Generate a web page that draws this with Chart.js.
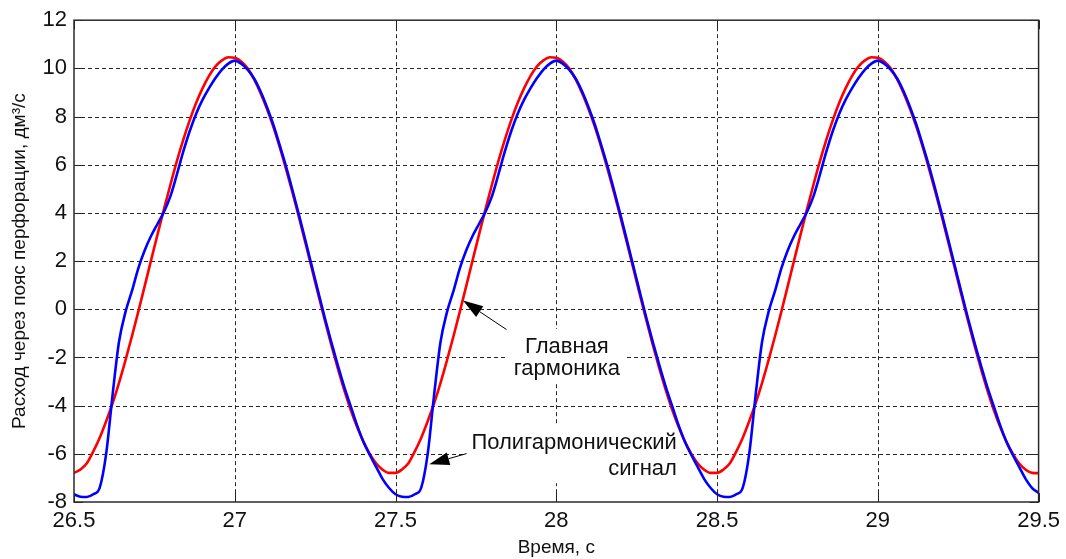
<!DOCTYPE html>
<html>
<head>
<meta charset="utf-8">
<script src="https://cdn.jsdelivr.net/npm/chart.js@4/dist/chart.umd.min.js"></script>
<style>
  html, body { margin: 0; padding: 0; background: #ffffff; }
  #wrap { width: 1066px; height: 559px; }
</style>
</head>
<body>
<div id="wrap"><canvas id="flow" width="1066" height="559"></canvas></div>
<script>
// Sample times, s
const timeS = [
  26.50,26.52,26.54,26.56,26.58,26.60,26.62,26.64,26.66,26.68,
  26.70,26.72,26.74,26.76,26.78,26.80,26.82,26.84,26.86,26.88,
  26.90,26.92,26.94,26.96,26.98,27.00,27.02,27.04,27.06,27.08,
  27.10,27.12,27.14,27.16,27.18,27.20,27.22,27.24,27.26,27.28,
  27.30,27.32,27.34,27.36,27.38,27.40,27.42,27.44,27.46,27.48,
  27.50,27.52,27.54,27.56,27.58,27.60,27.62,27.64,27.66,27.68,
  27.70,27.72,27.74,27.76,27.78,27.80,27.82,27.84,27.86,27.88,
  27.90,27.92,27.94,27.96,27.98,28.00,28.02,28.04,28.06,28.08,
  28.10,28.12,28.14,28.16,28.18,28.20,28.22,28.24,28.26,28.28,
  28.30,28.32,28.34,28.36,28.38,28.40,28.42,28.44,28.46,28.48,
  28.50,28.52,28.54,28.56,28.58,28.60,28.62,28.64,28.66,28.68,
  28.70,28.72,28.74,28.76,28.78,28.80,28.82,28.84,28.86,28.88,
  28.90,28.92,28.94,28.96,28.98,29.00,29.02,29.04,29.06,29.08,
  29.10,29.12,29.14,29.16,29.18,29.20,29.22,29.24,29.26,29.28,
  29.30,29.32,29.34,29.36,29.38,29.40,29.42,29.44,29.46,29.48,
  29.50
];

// Main harmonic of the flow through the perforation zone, dm3/s
const mainHarmonic = [
  -6.79,-6.65,-6.39,-5.90,-5.33,-4.65,-3.90,-3.05,-2.12,-1.13,
  -0.10,0.97,2.05,3.12,4.17,5.18,6.15,7.04,7.85,8.57,
  9.18,9.69,10.08,10.33,10.46,10.44,10.29,10.00,9.55,8.98,
  8.32,7.57,6.72,5.80,4.82,3.80,2.74,1.67,0.60,-0.45,
  -1.47,-2.43,-3.33,-4.15,-4.87,-5.49,-6.00,-6.40,-6.66,-6.79,
  -6.79,-6.65,-6.39,-5.90,-5.33,-4.65,-3.90,-3.05,-2.12,-1.13,
  -0.10,0.97,2.05,3.12,4.17,5.18,6.15,7.04,7.85,8.57,
  9.18,9.69,10.08,10.33,10.46,10.44,10.29,10.00,9.55,8.98,
  8.32,7.57,6.72,5.80,4.82,3.80,2.74,1.67,0.60,-0.45,
  -1.47,-2.43,-3.33,-4.15,-4.87,-5.49,-6.00,-6.40,-6.66,-6.79,
  -6.79,-6.65,-6.39,-5.90,-5.33,-4.65,-3.90,-3.05,-2.12,-1.13,
  -0.10,0.97,2.05,3.12,4.17,5.18,6.15,7.04,7.85,8.57,
  9.18,9.69,10.08,10.33,10.46,10.44,10.29,10.00,9.55,8.98,
  8.32,7.57,6.72,5.80,4.82,3.80,2.74,1.67,0.60,-0.45,
  -1.47,-2.43,-3.33,-4.15,-4.87,-5.49,-6.00,-6.40,-6.66,-6.79,
  -6.80
];

// Polyharmonic signal, dm3/s
const polyHarmonic = [
  -7.68,-7.78,-7.79,-7.68,-7.40,-6.00,-3.55,-1.35,-0.12,0.75,
  1.70,2.45,3.05,3.55,4.05,4.70,5.60,6.55,7.40,8.12,
  8.70,9.18,9.60,9.95,10.20,10.32,10.20,9.95,9.58,9.05,
  8.40,7.66,6.80,5.90,4.92,3.90,2.84,1.77,0.70,-0.35,
  -1.35,-2.30,-3.20,-4.00,-4.80,-5.50,-6.05,-6.55,-7.05,-7.42,
  -7.68,-7.78,-7.79,-7.68,-7.40,-6.00,-3.55,-1.35,-0.12,0.75,
  1.70,2.45,3.05,3.55,4.05,4.70,5.60,6.55,7.40,8.12,
  8.70,9.18,9.60,9.95,10.20,10.32,10.20,9.95,9.58,9.05,
  8.40,7.66,6.80,5.90,4.92,3.90,2.84,1.77,0.70,-0.35,
  -1.35,-2.30,-3.20,-4.00,-4.80,-5.50,-6.05,-6.55,-7.05,-7.42,
  -7.68,-7.78,-7.79,-7.68,-7.40,-6.00,-3.55,-1.35,-0.12,0.75,
  1.70,2.45,3.05,3.55,4.05,4.70,5.60,6.55,7.40,8.12,
  8.70,9.18,9.60,9.95,10.20,10.32,10.20,9.95,9.58,9.05,
  8.40,7.66,6.80,5.90,4.92,3.90,2.84,1.77,0.70,-0.35,
  -1.35,-2.30,-3.20,-4.00,-4.80,-5.50,-6.05,-6.55,-7.05,-7.42,
  -7.62
];

const xTickValues = [26.5, 27, 27.5, 28, 28.5, 29, 29.5];
const yTickValues = [-8, -6, -4, -2, 0, 2, 4, 6, 8, 10, 12];

const xTitle = 'Время, с';
const yTitle = 'Расход через пояс перфорации, дм³/с';

// Callout labels and their arrows, in axis units
const noteTexts = [
  { lines: ['Главная', 'гармоника'], x: 28.033, y: [-1.81, -2.72], align: 'center' },
  { lines: ['Полигармонический', 'сигнал'], x: 28.375, y: [-5.79, -6.89], align: 'right' }
];
const noteArrows = [
  { from: [27.845, -0.84], to: [27.71, 0.36] },
  { from: [27.721, -5.99], to: [27.605, -6.43] }
];

const FONT = '"Liberation Sans", Arial, sans-serif';
Chart.defaults.font.family = FONT;
Chart.defaults.color = '#111111';

const toPoints = (vals) => timeS.map((t, i) => ({ x: t, y: vals[i] }));

const px = (v) => Math.round(v) + 0.5;

const axesDecor = {
  id: 'axesDecor',
  beforeDatasetsDraw(chart) {
    const { ctx, chartArea: a, scales: { x, y } } = chart;
    ctx.save();
    // dotted grid
    ctx.strokeStyle = '#262626';
    ctx.lineWidth = 1;
    ctx.setLineDash([4, 3]);
    xTickValues.slice(1, -1).forEach(v => {
      const X = px(x.getPixelForValue(v));
      ctx.beginPath(); ctx.moveTo(X, a.top); ctx.lineTo(X, a.bottom); ctx.stroke();
    });
    yTickValues.slice(1, -1).forEach(v => {
      const Y = px(y.getPixelForValue(v));
      ctx.beginPath(); ctx.moveTo(a.left, Y); ctx.lineTo(a.right, Y); ctx.stroke();
    });
    ctx.setLineDash([]);
    // callout text on white boxes
    ctx.font = '22px ' + FONT;
    ctx.textBaseline = 'alphabetic';
    noteTexts.forEach(n => {
      const X = x.getPixelForValue(n.x);
      const widths = n.lines.map(s => ctx.measureText(s).width);
      const maxW = Math.max(...widths);
      const Y0 = y.getPixelForValue(n.y[0]);
      const Y1 = y.getPixelForValue(n.y[n.y.length - 1]);
      let left, right;
      if (n.align === 'center') { left = X - maxW / 2; right = X + maxW / 2; }
      else { left = X - maxW; right = X; }
      ctx.fillStyle = '#ffffff';
      ctx.fillRect(left - 7, Y0 - 24, (right - left) + 14, (Y1 - Y0) + 32);
      ctx.fillStyle = '#111111';
      ctx.textAlign = n.align;
      n.lines.forEach((s, i) => ctx.fillText(s, X, y.getPixelForValue(n.y[i])));
    });
    ctx.restore();
  },
  afterDatasetsDraw(chart) {
    const { ctx, chartArea: a, scales: { x, y } } = chart;
    ctx.save();
    // inner tick marks on all four sides
    const tl = 9;
    ctx.strokeStyle = '#222222';
    ctx.lineWidth = 1;
    xTickValues.forEach(v => {
      const X = px(x.getPixelForValue(v));
      ctx.beginPath();
      ctx.moveTo(X, a.bottom); ctx.lineTo(X, a.bottom - tl);
      ctx.moveTo(X, a.top); ctx.lineTo(X, a.top + tl);
      ctx.stroke();
    });
    yTickValues.forEach(v => {
      const Y = px(y.getPixelForValue(v));
      ctx.beginPath();
      ctx.moveTo(a.left, Y); ctx.lineTo(a.left + tl, Y);
      ctx.moveTo(a.right, Y); ctx.lineTo(a.right - tl, Y);
      ctx.stroke();
    });
    // axes box
    ctx.strokeStyle = '#2a2a2a';
    ctx.lineWidth = 1.5;
    ctx.strokeRect(a.left, a.top, a.right - a.left, a.bottom - a.top);
    // arrows
    ctx.strokeStyle = '#000000';
    ctx.fillStyle = '#000000';
    ctx.lineWidth = 1;
    noteArrows.forEach(ar => {
      const x0 = x.getPixelForValue(ar.from[0]), y0 = y.getPixelForValue(ar.from[1]);
      const x1 = x.getPixelForValue(ar.to[0]), y1 = y.getPixelForValue(ar.to[1]);
      const ang = Math.atan2(y1 - y0, x1 - x0);
      const len = 20, hw = 6.5;
      const bx = x1 - len * Math.cos(ang), by = y1 - len * Math.sin(ang);
      ctx.beginPath(); ctx.moveTo(x0, y0); ctx.lineTo(bx, by); ctx.stroke();
      ctx.beginPath();
      ctx.moveTo(x1, y1);
      ctx.lineTo(bx + hw * Math.sin(ang), by - hw * Math.cos(ang));
      ctx.lineTo(bx - hw * Math.sin(ang), by + hw * Math.cos(ang));
      ctx.closePath(); ctx.fill();
    });
    ctx.restore();
  }
};

new Chart(document.getElementById('flow'), {
  type: 'line',
  data: {
    datasets: [
      {
        label: 'Полигармонический сигнал',
        data: toPoints(polyHarmonic),
        borderColor: '#0000ff',
        borderWidth: 2.6,
        pointRadius: 0,
        cubicInterpolationMode: 'monotone',
        order: 1
      },
      {
        label: 'Главная гармоника',
        data: toPoints(mainHarmonic),
        borderColor: '#ff0000',
        borderWidth: 2.6,
        pointRadius: 0,
        cubicInterpolationMode: 'monotone',
        order: 2
      }
    ]
  },
  options: {
    responsive: false,
    animation: false,
    devicePixelRatio: 1,
    layout: { padding: { left: 0, right: 27, top: 17, bottom: 0 } },
    plugins: { legend: { display: false }, tooltip: { enabled: false } },
    scales: {
      x: {
        type: 'linear',
        min: 26.5, max: 29.5,
        afterBuildTicks: s => { s.ticks = xTickValues.map(v => ({ value: v })); },
        afterFit: s => { s.height = 57; },
        grid: { display: false, drawTicks: false },
        border: { display: false },
        ticks: { font: { size: 22 }, color: '#111111', padding: 6, maxRotation: 0, callback: v => String(v) },
        title: { display: true, text: xTitle, font: { size: 19 }, color: '#111111', padding: { top: 0, bottom: 0 } }
      },
      y: {
        type: 'linear',
        min: -8, max: 12,
        afterBuildTicks: s => { s.ticks = yTickValues.map(v => ({ value: v })); },
        afterFit: s => { s.width = 74; },
        grid: { display: false, drawTicks: false },
        border: { display: false },
        ticks: { font: { size: 22 }, color: '#111111', padding: 7, callback: v => String(v) },
        title: { display: true, text: yTitle, font: { size: 19 }, color: '#111111', padding: { top: 8, bottom: 0 } }
      }
    }
  },
  plugins: [axesDecor]
});
</script>
</body>
</html>
